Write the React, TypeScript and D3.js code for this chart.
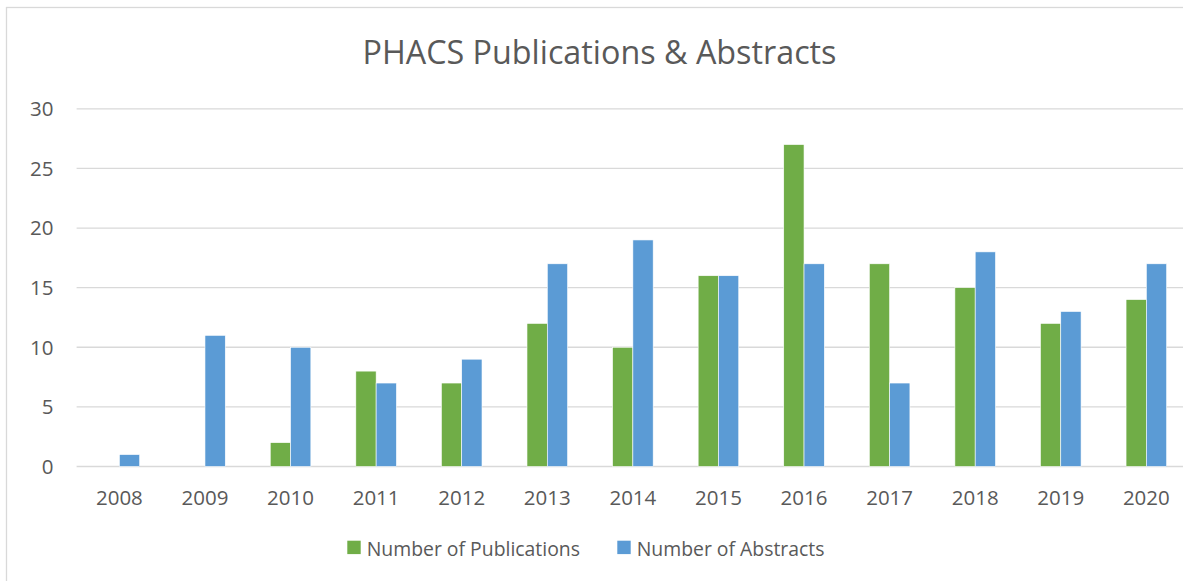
import React from "react";
import * as d3 from "d3";

const years = ["2008","2009","2010","2011","2012","2013","2014","2015","2016","2017","2018","2019","2020"];
const publications = [0,0,2,8,7,12,10,16,27,17,15,12,14];
const abstracts = [1,11,10,7,9,17,19,16,17,7,18,13,17];
const yTicks = [0,5,10,15,20,25,30];
const seriesNames = ["Number of Publications","Number of Abstracts"];
const colors = ["#70AD47","#5B9BD5"];

const W = 1183, H = 581;
const FONT = "'Open Sans', 'Noto Sans', sans-serif";
const TXT = "#595959";

export default function App() {
  const x = d3.scaleBand<string>().domain(years).range([76.6, 76.6 + 85.58 * 13]).paddingInner(0).paddingOuter(0);
  const y = d3.scaleLinear().domain([0, 30]).range([466.5, 108.8]);
  const barW = 20.3;
  const series = [publications, abstracts];
  return (
    <svg width={W} height={H} style={{ position: "absolute", left: 0, top: 0, overflow: "hidden" }} fontFamily={FONT}>
      <rect x={0} y={0} width={W} height={H} fill="#fff" />
      <rect x={6.5} y={7.5} width={W + 20} height={H + 20} fill="none" stroke="#D9D9D9" strokeWidth={1.3} />
      <text x={599.5} y={63.5} textAnchor="middle" fontSize={32.3} fill={TXT}>PHACS Publications &amp; Abstracts</text>
      {yTicks.map(t => (
        <g key={t}>
          <line x1={76.6} x2={W + 20} y1={y(t)} y2={y(t)} stroke="#D9D9D9" strokeWidth={1.3} />
          <text x={53.5} y={y(t) + 7.3} textAnchor="end" fontSize={20.5} fill={TXT}>{t}</text>
        </g>
      ))}
      {series.map((vals, si) => (
        <g key={si}>
          {vals.map((v, i) => {
            const cx = (x(years[i]) as number) + x.bandwidth() / 2;
            const bx = si === 0 ? cx - barW : cx;
            return v > 0 ? (
              <rect key={i} x={bx} y={y(v)} width={barW} height={y(0) - y(v)} fill={colors[si]} stroke="#fff" strokeWidth={0.6} />
            ) : null;
          })}
        </g>
      ))}
      {years.map(yr => (
        <text key={yr} x={(x(yr) as number) + x.bandwidth() / 2} y={505} textAnchor="middle" fontSize={20.5} fill={TXT}>{yr}</text>
      ))}
      {seriesNames.map((n, i) => {
        const lx = i === 0 ? 347.3 : 617.3;
        return (
          <g key={n}>
            <rect x={lx} y={540.7} width={13.4} height={13.4} fill={colors[i]} />
            <text x={lx + 19.4} y={556} fontSize={19.4} fill={TXT}>{n}</text>
          </g>
        );
      })}
    </svg>
  );
}
